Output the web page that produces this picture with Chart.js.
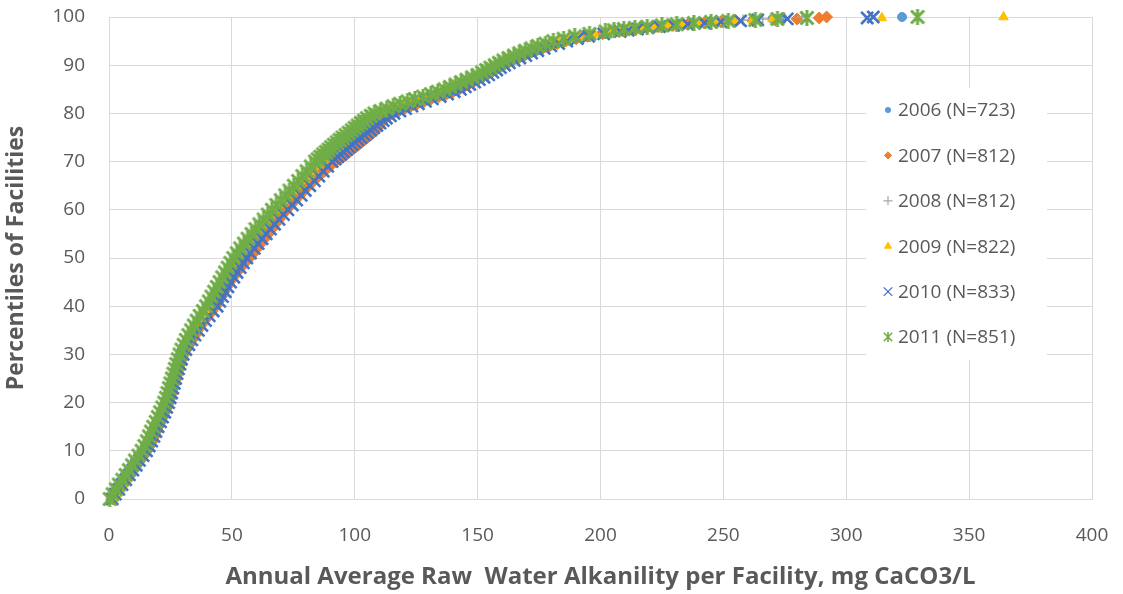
<!DOCTYPE html>
<html>
<head>
<meta charset="utf-8">
<title>Raw Water Alkalinity</title>
<script src="https://cdn.jsdelivr.net/npm/chart.js@4.4.1/dist/chart.umd.min.js"></script>
<style>
  html, body { margin: 0; padding: 0; background: #fff; }
  #wrap { width: 1123px; height: 594px; }
</style>
</head>
<body>
<div id="wrap"><canvas id="chartAlk" width="1123" height="594"></canvas></div>
<script>
// ============================================
// ALKALINITY PERCENTILES PER FACILITY
// ============================================

// ========== DATA ==========
// percentile levels shared by every year (y axis)
const PERCENTILES = [
    0, 1, 2, 3, 4, 5, 6, 7, 8, 9, 10, 11, 12, 13, 14, 15, 16, 17, 18, 19, 20,
    21, 22, 23, 24, 25, 26, 27, 28, 29, 30, 31, 32, 33, 34, 35, 36, 37, 38, 39, 40,
    41, 42, 43, 44, 45, 46, 47, 48, 49, 50, 51, 52, 53, 54, 55, 56, 57, 58, 59, 60,
    61, 62, 63, 64, 65, 66, 67, 68, 69, 70,
    70.5, 71, 71.5, 72, 72.5, 73, 73.5, 74, 74.5, 75, 75.5, 76, 76.5, 77, 77.5, 78, 78.5, 79, 79.5, 80,
    80.5, 81, 81.5, 82, 82.5, 83, 83.5, 84, 84.5, 85, 85.5, 86, 86.5, 87, 87.5, 88, 88.5, 89, 89.5, 90,
    90.5, 91, 91.5, 92, 92.5, 93, 93.5, 94, 94.5, 95, 95.5, 96, 96.5, 97,
    97.25, 97.5, 97.75, 98, 98.25, 98.5, 98.75, 99,
    99.2, 99.4, 99.6, 99.8, 100
];

// alkalinity (mg CaCO3/L) at each percentile level
const ALK_2006 = [
    0.9, 2.2, 3.6, 4.9, 6.4, 7.9, 9.3, 10.7, 12.0, 13.5, 14.9, 16.0, 17.0, 17.9, 18.7, 19.6, 20.6, 21.4, 22.3, 23.1,
    23.9, 24.5, 25.1, 25.6, 26.2, 26.7, 27.3, 27.9, 28.5, 29.1, 29.8, 30.4, 31.6, 32.8, 34.1, 35.5, 36.9, 38.4, 39.9, 41.5,
    43.1, 44.2, 45.3, 46.4, 47.5, 48.6, 49.9, 51.2, 52.5, 53.8, 55.2, 56.7, 58.2, 59.8, 61.4, 63.1, 64.8, 66.5, 68.3, 70.1,
    71.9, 73.7, 75.5, 77.3, 79.0, 80.8, 82.7, 84.5, 86.3, 88.1, 89.9,
    91.1, 92.2, 93.4, 94.5, 95.7, 96.8, 98.0, 99.2, 100.4, 101.6, 103.0, 104.2, 105.6, 106.8, 108.1, 109.4, 110.7, 112.0, 113.6, 115.1,
    117.5, 119.8, 122.4, 125.0, 127.9, 130.7, 133.9, 136.9, 139.6, 142.1, 144.1, 145.9, 147.9, 149.8, 151.7, 153.6, 155.3, 156.9, 158.4, 160.1,
    162.0, 164.0, 166.3, 168.7, 171.1, 173.6, 176.2, 178.9, 182.1, 185.4, 189.7, 194.3, 200.4, 207.1,
    209.0, 213.0, 217.5, 222.0, 227.5, 233.5, 240.0, 246.5,
    255, 262, 270, 274, 322.7
];
const ALK_2007 = [
    1.5, 2.8, 4.2, 5.5, 7.0, 8.5, 9.9, 11.3, 12.6, 14.1, 15.5, 16.6, 17.6, 18.5, 19.2, 20.1, 21.1, 22.0, 22.8, 23.7,
    24.5, 25.2, 25.8, 26.3, 26.9, 27.5, 28.1, 28.7, 29.2, 29.8, 30.5, 31.5, 32.7, 33.8, 35.1, 36.0, 37.4, 38.9, 40.4, 42.0,
    43.5, 44.6, 45.7, 46.8, 47.9, 49.0, 50.5, 52.0, 53.6, 55.3, 57.2, 58.8, 60.3, 61.8, 63.3, 64.8, 66.2, 67.6, 69.2, 70.6,
    72.3, 74.0, 75.8, 77.6, 79.4, 81.3, 83.3, 85.4, 87.6, 89.9, 92.3,
    94.0, 95.3, 96.6, 97.8, 99.1, 100.3, 101.6, 102.8, 104.0, 105.2, 106.5, 107.6, 108.6, 109.3, 109.9, 110.5, 111.4, 112.5, 114.0, 115.5,
    117.9, 120.2, 122.8, 125.4, 128.3, 131.1, 134.3, 137.3, 140.0, 142.5, 144.5, 146.3, 148.3, 150.2, 152.1, 154.0, 155.7, 157.3, 158.8, 160.5,
    162.4, 164.3, 166.6, 168.9, 171.3, 173.8, 176.5, 179.2, 182.5, 185.8, 190.1, 194.7, 200.9, 207.5,
    210.8, 214.6, 218.9, 223.7, 229.5, 235.4, 242.2, 249.0,
    262, 271, 280, 289, 292
];
const ALK_2008 = [
    1.5, 2.7, 4.0, 5.2, 6.6, 8.0, 9.3, 10.6, 11.8, 13.2, 14.5, 15.6, 16.6, 17.5, 18.3, 19.2, 20.2, 21.1, 22.0, 22.9,
    23.7, 24.4, 25.0, 25.6, 26.2, 26.8, 27.4, 28.0, 28.6, 29.2, 29.9, 30.7, 31.6, 32.5, 33.5, 34.6, 35.7, 36.9, 38.1, 39.4,
    40.7, 42.6, 43.7, 44.8, 45.9, 47.0, 48.1, 49.2, 50.3, 51.4, 52.6, 54.0, 55.4, 56.9, 58.4, 60.0, 61.6, 63.2, 64.9, 66.6,
    68.3, 70.1, 71.9, 73.7, 75.4, 77.2, 79.0, 80.7, 82.4, 84.1, 85.8,
    87.4, 88.5, 89.6, 90.7, 91.8, 92.9, 94.0, 95.2, 96.3, 97.5, 98.8, 100.0, 101.3, 102.5, 103.7, 105.0, 106.2, 107.5, 109.0, 110.5,
    113.0, 115.5, 118.2, 121.0, 124.0, 127.0, 130.3, 133.5, 136.3, 139.0, 141.3, 143.5, 145.8, 148.0, 150.3, 152.5, 154.3, 156.0, 157.7, 159.5,
    161.2, 163.0, 165.1, 167.3, 169.5, 171.9, 174.4, 177.0, 180.1, 183.3, 187.5, 192.0, 198.0, 204.5,
    208.5, 212.5, 217.0, 222.0, 228.0, 234.0, 241.0, 248.0,
    252, 258, 266, 275, 282
];
const ALK_2009 = [
    1.8, 3.0, 4.3, 5.5, 6.9, 8.3, 9.6, 10.9, 12.1, 13.5, 14.8, 15.9, 16.9, 17.8, 18.6, 19.5, 20.5, 21.4, 22.3, 23.2,
    24.0, 24.7, 25.3, 25.9, 26.5, 27.1, 27.7, 28.3, 28.9, 29.5, 30.2, 31.0, 31.9, 32.8, 33.8, 34.9, 36.0, 37.2, 38.4, 39.7,
    41.0, 42.1, 43.2, 44.3, 45.4, 46.5, 47.6, 48.7, 49.8, 50.9, 52.1, 53.5, 54.9, 56.4, 57.9, 59.5, 61.1, 62.7, 64.4, 66.1,
    67.8, 69.6, 71.4, 73.2, 74.9, 77.7, 79.7, 81.6, 83.5, 85.4, 87.3,
    88.4, 89.5, 90.6, 91.7, 92.7, 93.8, 94.8, 95.9, 96.9, 98.0, 98.8, 100.0, 101.0, 102.0, 103.2, 104.5, 105.7, 107.0, 108.5, 110.0,
    112.5, 115.0, 117.7, 120.5, 123.5, 126.5, 129.8, 133.0, 135.8, 138.5, 140.8, 143.0, 145.3, 147.5, 149.8, 152.0, 153.8, 155.5, 157.2, 159.0,
    160.7, 162.5, 164.6, 166.8, 169.0, 171.4, 173.9, 176.5, 179.6, 182.8, 187.0, 191.5, 197.5, 204.0,
    208.0, 212.0, 216.5, 221.5, 227.5, 233.5, 240.5, 247.5,
    255, 262, 270, 314.5, 364
];
const ALK_2010 = [
    1.3, 2.6, 4.0, 5.3, 6.8, 8.3, 9.7, 11.1, 12.4, 13.9, 15.3, 16.4, 17.4, 18.3, 19.1, 20.0, 21.0, 21.8, 22.7, 23.5,
    24.3, 24.9, 25.5, 26.0, 26.6, 27.1, 27.7, 28.3, 28.9, 29.5, 30.2, 31.3, 32.5, 33.7, 35.0, 36.4, 37.8, 39.3, 40.8, 42.4,
    44.0, 45.1, 46.2, 47.3, 48.4, 49.5, 50.8, 52.1, 53.4, 54.7, 56.1, 57.6, 59.1, 60.7, 62.3, 64.0, 65.7, 67.4, 69.2, 71.0,
    72.8, 74.6, 76.4, 78.2, 79.9, 81.7, 83.6, 85.4, 87.2, 89.0, 90.8,
    92.0, 93.1, 94.3, 95.4, 96.6, 97.7, 98.9, 100.1, 101.3, 102.5, 103.9, 105.1, 106.5, 107.7, 109.0, 110.3, 111.6, 112.9, 114.5, 116.0,
    118.4, 120.7, 123.3, 125.9, 128.8, 131.6, 134.8, 137.8, 140.5, 143.0, 145.0, 146.8, 148.8, 150.7, 152.6, 154.5, 156.2, 157.8, 159.3, 161.0,
    162.9, 164.9, 167.2, 169.6, 172.0, 174.5, 177.1, 179.8, 183.0, 186.3, 190.6, 195.2, 201.3, 208.0,
    211.3, 215.0, 219.3, 224.0, 229.8, 235.5, 242.3, 249.0,
    257, 264, 276, 308.5, 311
];
const ALK_2011 = [
    0.3, 1.5, 2.8, 4.0, 5.4, 6.8, 8.1, 9.4, 10.6, 12.0, 13.3, 14.4, 15.4, 16.3, 17.1, 18.0, 19.0, 19.9, 20.8, 21.7,
    22.5, 23.2, 23.8, 24.4, 25.0, 25.6, 26.2, 26.8, 27.4, 28.0, 28.7, 29.5, 30.4, 31.3, 32.3, 33.4, 34.5, 35.7, 36.9, 38.2,
    39.5, 40.6, 41.7, 42.8, 43.9, 45.0, 46.1, 47.2, 48.3, 49.4, 50.6, 52.0, 53.4, 54.9, 56.4, 58.0, 59.6, 61.2, 62.9, 64.6,
    66.3, 68.1, 69.9, 71.7, 73.4, 75.2, 77.0, 78.7, 80.4, 82.1, 83.8,
    84.9, 86.0, 87.1, 88.2, 89.3, 90.4, 91.5, 92.7, 93.8, 95.0, 96.3, 97.5, 98.8, 100.0, 101.2, 102.5, 103.7, 105.0, 106.5, 108.0,
    110.5, 113.0, 115.7, 118.5, 121.5, 124.5, 127.8, 131.0, 133.8, 136.5, 138.8, 141.0, 143.3, 145.5, 147.8, 150.0, 151.8, 153.5, 155.2, 157.0,
    158.7, 160.5, 162.6, 164.8, 167.0, 169.4, 171.9, 174.5, 177.6, 180.8, 185.0, 189.5, 195.5, 202.0,
    205.5, 209.5, 214.0, 219.0, 225.0, 231.0, 238.0, 245.0,
    252, 263, 272, 284, 329
];

const LABELS = ['2006 (N=723)', '2007 (N=812)', '2008 (N=812)', '2009 (N=822)', '2010 (N=833)', '2011 (N=851)'];

const X_TICK_STEP = 50;
const Y_TICK_STEP = 10;

// ========== MARKERS ==========
// 2011 marker: an "x" crossed by a vertical bar
function makeAsterisk(size, color, width) {
    const c = document.createElement('canvas');
    c.width = size;
    c.height = size;
    const g = c.getContext('2d');
    g.strokeStyle = color;
    g.lineWidth = width;
    const a = width / 2, b = size - width / 2;
    g.beginPath();
    g.moveTo(a, a); g.lineTo(b, b);
    g.moveTo(b, a); g.lineTo(a, b);
    g.moveTo(size / 2, 0); g.lineTo(size / 2, size);
    g.stroke();
    return c;
}

const GREEN = '#70AD47';
const star2011 = makeAsterisk(16, GREEN, 3);
const star2011Small = makeAsterisk(10, GREEN, 1.6);

const SERIES = [
    { label: LABELS[0], data: ALK_2006, color: '#5B9BD5', style: 'circle',   radius: 4.5, border: 1,   legStyle: 'circle',   legRadius: 2.6, legBorder: 1 },
    { label: LABELS[1], data: ALK_2007, color: '#ED7D31', style: 'rectRot',  radius: 6,   border: 1,   legStyle: 'rectRot',  legRadius: 3.6, legBorder: 1 },
    { label: LABELS[2], data: ALK_2008, color: '#A5A5A5', style: 'cross',    radius: 5.5, border: 1.5, legStyle: 'cross',    legRadius: 4.5, legBorder: 1.2 },
    { label: LABELS[3], data: ALK_2009, color: '#FFC000', style: 'triangle', radius: 5.5, border: 1,   legStyle: 'triangle', legRadius: 4,   legBorder: 1 },
    { label: LABELS[4], data: ALK_2010, color: '#4472C4', style: 'crossRot', radius: 8.5, border: 2.6, legStyle: 'crossRot', legRadius: 6,   legBorder: 1.3 },
    { label: LABELS[5], data: ALK_2011, color: GREEN,     style: star2011,   radius: 8,   border: 0,   legStyle: star2011Small, legRadius: 5, legBorder: 0 }
];

function toPoints(values) {
    return values.map((x, i) => ({ x: x, y: PERCENTILES[i] }));
}

// ========== LEGEND INSIDE THE PLOT ==========
const legendBox = {
    id: 'legendBox',
    beforeDatasetsDraw(chart) {
        const ctx = chart.ctx;
        ctx.save();
        ctx.fillStyle = '#ffffff';
        ctx.fillRect(866, 88, 181, 272);
        ctx.font = '19px "Open Sans", sans-serif';
        ctx.textBaseline = 'middle';
        ctx.textAlign = 'left';
        SERIES.forEach((s, i) => {
            const y = 110 + i * 45.4;
            ctx.fillStyle = s.color;
            ctx.strokeStyle = s.color;
            ctx.lineWidth = s.legBorder;
            Chart.helpers.drawPoint(ctx, {
                pointStyle: s.legStyle,
                radius: s.legRadius,
                rotation: 0,
                borderWidth: s.legBorder
            }, 888, y);
            ctx.fillStyle = '#595959';
            ctx.fillText(s.label, 898, y + 1);
        });
        ctx.restore();
    }
};

// no extra room for half tick labels: the plot box is fixed by the paddings
function noEdgePadding(scale) {
    scale.paddingTop = 0;
    scale.paddingBottom = 0;
    scale.paddingLeft = 0;
    scale.paddingRight = 0;
}

// ========== CHART ==========
document.addEventListener('DOMContentLoaded', function() {
    Chart.defaults.font.family = '"Open Sans", sans-serif';
    Chart.defaults.color = '#595959';

    const datasets = SERIES.map((s, i) => ({
        label: s.label,
        data: toPoints(s.data),
        order: SERIES.length - i,
        pointStyle: s.style,
        pointRadius: s.radius,
        pointBorderWidth: s.border,
        backgroundColor: s.color,
        borderColor: s.color,
        showLine: false,
        clip: false
    }));

    const ctx = document.getElementById('chartAlk').getContext('2d');
    new Chart(ctx, {
        type: 'scatter',
        data: { datasets: datasets },
        options: {
            responsive: false,
            animation: false,
            devicePixelRatio: 1,
            layout: { padding: { left: 0, top: 17, right: 31, bottom: 0 } },
            plugins: {
                legend: { display: false },
                tooltip: { enabled: false }
            },
            scales: {
                x: {
                    type: 'linear',
                    min: 0,
                    max: 400,
                    afterFit(scale) { scale.height = 95; noEdgePadding(scale); },
                    ticks: { stepSize: X_TICK_STEP, padding: 25, color: '#595959', font: { size: 19 } },
                    grid: { color: '#D9D9D9', drawTicks: false },
                    border: { color: '#D9D9D9' },
                    title: {
                        display: true,
                        text: 'Annual Average Raw  Water Alkanility per Facility, mg CaCO3/L',
                        color: '#595959',
                        font: { size: 24, weight: 'bold' },
                        padding: { top: 0, bottom: 2 }
                    }
                },
                y: {
                    type: 'linear',
                    min: 0,
                    max: 100,
                    afterFit(scale) { scale.width = 109; noEdgePadding(scale); },
                    ticks: { stepSize: Y_TICK_STEP, padding: 24, color: '#595959', font: { size: 19 } },
                    grid: { color: '#D9D9D9', drawTicks: false },
                    border: { color: '#D9D9D9' },
                    title: {
                        display: true,
                        text: 'Percentiles of Facilities',
                        color: '#595959',
                        font: { size: 23, weight: 'bold' },
                        padding: { top: 3, bottom: 0 }
                    }
                }
            }
        },
        plugins: [legendBox]
    });
});
</script>
</body>
</html>
